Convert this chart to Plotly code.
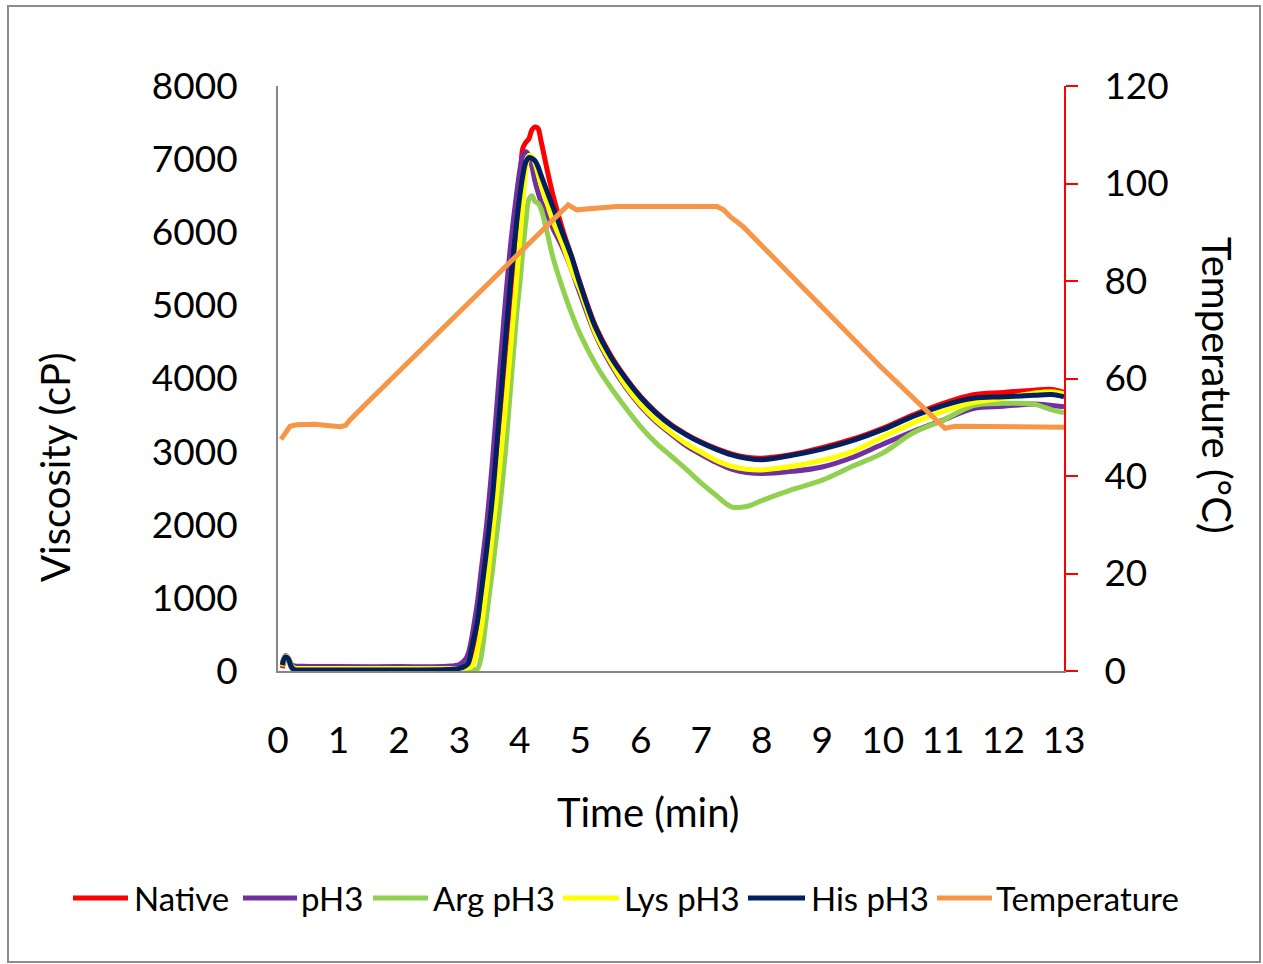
import plotly.graph_objects as go

# ---- data ----
time_min = [0.07, 0.12, 0.17, 0.22, 0.27, 0.4, 1.0, 2.0, 2.8, 3.0, 3.1, 3.15, 3.2, 3.25, 3.3, 3.35,
            3.45, 3.55, 3.65, 3.75, 3.85, 3.95, 4.0, 4.05, 4.1, 4.15, 4.2, 4.25, 4.3, 4.35,
            4.45, 4.55, 4.7, 4.85, 5.0, 5.25, 5.5, 5.75, 6.0, 6.25, 6.5, 6.75, 7.0,
            7.25, 7.5, 7.75, 8.0, 8.5, 9.0, 9.5, 10.0, 10.5, 11.0, 11.5, 12.0, 12.5, 12.8, 13.0]

native = [40, 150, 160, 50, 5, 0, 0, 5, 10, 20, 50, 80, 220, 400, 600, 900,
          1500, 2250, 3200, 4200, 5150, 6000, 6600, 7150, 7230, 7280, 7400, 7440, 7420, 7250,
          6860, 6500, 6060, 5680, 5300, 4720, 4320, 4010, 3750, 3540, 3370, 3240, 3130,
          3040, 2970, 2925, 2910, 2960, 3055, 3170, 3320, 3500, 3660, 3780, 3810, 3840, 3850, 3810]

ph3 = [100, 210, 180, 90, 70, 65, 60, 60, 65, 90, 160, 250, 430, 680, 950, 1300,
       2000, 2900, 3950, 4950, 5850, 6550, 6850, 7050, 7100, 7050, 6900, 6700, 6550, 6420,
       6250, 6050, 5800, 5500, 5150, 4600, 4200, 3880, 3620, 3410, 3240, 3080, 2960,
       2850, 2760, 2715, 2700, 2730, 2790, 2920, 3100, 3275, 3430, 3590, 3620, 3650, 3630, 3615]

arg_ph3 = [60, 170, 150, 50, 20, 15, 15, 15, 15, 15, 15, 15, 18, 20, 30, 150,
           750, 1400, 2100, 2900, 3900, 4900, 5300, 5750, 6150, 6450, 6500, 6420, 6400, 6320,
           6000, 5650, 5250, 4900, 4600, 4200, 3880, 3600, 3340, 3120, 2940, 2760, 2570,
           2400, 2245, 2250, 2330, 2480, 2610, 2800, 2980, 3255, 3430, 3630, 3660, 3650, 3570, 3530]

lys_ph3 = [70, 200, 180, 70, 40, 35, 35, 35, 35, 35, 40, 45, 60, 150, 300, 520,
           1150, 1900, 2650, 3500, 4450, 5400, 5900, 6400, 6850, 7050, 7040, 6950, 6800, 6650,
           6400, 6150, 5850, 5500, 5200, 4620, 4230, 3900, 3640, 3430, 3260, 3110, 2990,
           2880, 2800, 2760, 2750, 2800, 2880, 3000, 3200, 3390, 3550, 3670, 3730, 3800, 3820, 3790]

his_ph3 = [80, 190, 170, 60, 20, 15, 12, 15, 20, 35, 70, 110, 300, 480, 680, 1000,
           1650, 2400, 3400, 4400, 5350, 6150, 6500, 6780, 6960, 7020, 7010, 6980, 6900, 6780,
           6560, 6340, 6000, 5680, 5280, 4700, 4300, 4000, 3740, 3530, 3360, 3230, 3120,
           3030, 2955, 2910, 2890, 2950, 3035, 3150, 3300, 3480, 3630, 3730, 3750, 3770, 3780, 3750]

temp_time = [0.05, 0.12, 0.2, 0.31, 0.6, 1.03, 1.12, 1.19, 1.52, 4.8, 4.94, 5.6, 7.26, 7.37,
             7.48, 7.69, 8.8, 9.96, 11.03, 11.2, 13.0]
temperature = [47.5, 48.8, 50.2, 50.5, 50.6, 50.1, 50.4, 51.5, 55.6, 95.6, 94.6, 95.3, 95.3, 94.6,
               93.2, 91.2, 77.0, 62.5, 49.8, 50.2, 50.0]

x_ticks = list(range(0, 14))
y_ticks = list(range(0, 8001, 1000))
y2_ticks = list(range(0, 121, 20))

series_names = ["Native", "pH3", "Arg pH3", "Lys pH3", "His pH3"]
series_values = [native, ph3, arg_ph3, lys_ph3, his_ph3]
series_colors = ["#FF0000", "#7030A0", "#92D050", "#FFFF00", "#002060"]
temp_name, temp_color = "Temperature", "#F79646"

FONT = "Lato, Carlito, Calibri, sans-serif"
LW = 5

fig = go.Figure()
for name, vals, color in zip(series_names, series_values, series_colors):
    fig.add_trace(go.Scatter(x=time_min, y=vals, name=name, mode="lines",
                             line=dict(color=color, width=LW), line_shape="spline"))
fig.add_trace(go.Scatter(x=temp_time, y=temperature, name=temp_name, mode="lines",
                         line=dict(color=temp_color, width=LW), yaxis="y2"))

W, H = 1263, 964
L, R, T, B = 278, 1064, 86, 671
pw, ph = R - L, B - T


def px(xp):
    return (xp - L) / pw


def py(yp):
    return (B - yp) / ph


# legend drawn as a single row below the chart (line sample + label for each series)
legend_line_x = [(73, 128), (243, 297), (373, 428), (563, 619), (748, 805), (937, 992)]
legend_text_x = [132, 299, 431, 622, 809, 994]
legend_y = 898
shapes = [dict(type="rect", xref="paper", yref="paper", x0=px(8), x1=px(1260), y0=py(962), y1=py(6),
               line=dict(color="#8C8C8C", width=2), fillcolor="rgba(0,0,0,0)", layer="below")]
annotations = [
    dict(text="Viscosity (cP)", x=px(55), y=py(467), xref="paper", yref="paper",
         showarrow=False, textangle=-90, font=dict(size=40), xanchor="center", yanchor="middle"),
    dict(text="Temperature (°C)", x=px(1217), y=py(385), xref="paper", yref="paper",
         showarrow=False, textangle=90, font=dict(size=40), xanchor="center", yanchor="middle"),
    dict(text="Time (min)", x=px(648), y=py(812), xref="paper", yref="paper",
         showarrow=False, font=dict(size=40), xanchor="center", yanchor="middle"),
]
for (x0, x1), tx, name, color in zip(legend_line_x, legend_text_x,
                                     series_names + [temp_name], series_colors + [temp_color]):
    shapes.append(dict(type="line", xref="paper", yref="paper", x0=px(x0), x1=px(x1),
                       y0=py(legend_y), y1=py(legend_y), line=dict(color=color, width=LW)))
    annotations.append(dict(text=name, x=px(tx), y=py(legend_y), xref="paper", yref="paper",
                            showarrow=False, xanchor="left", yanchor="middle",
                            font=dict(size=33)))

fig.update_layout(
    width=W, height=H,
    margin=dict(l=L, r=W - R, t=T, b=H - B),
    paper_bgcolor="white", plot_bgcolor="white",
    font=dict(family=FONT, size=37, color="black"),
    showlegend=False,
    xaxis=dict(range=[0, 13], tickvals=x_ticks, showgrid=False, zeroline=False,
               showline=True, linecolor="#868686", linewidth=2, ticks="",
               ticklabelstandoff=36),
    yaxis=dict(range=[0, 8000], tickvals=y_ticks, showgrid=False, zeroline=False,
               showline=True, linecolor="#868686", linewidth=2, ticks="",
               ticklabelstandoff=31),
    yaxis2=dict(range=[0, 120], tickvals=y2_ticks, overlaying="y", side="right",
                showgrid=False, zeroline=False, showline=True, linecolor="#FF0000",
                linewidth=2, ticks="outside", ticklen=12, tickwidth=2, tickcolor="#FF0000",
                ticklabelstandoff=19),
    annotations=annotations,
    shapes=shapes,
)

fig.write_html("out.html")
